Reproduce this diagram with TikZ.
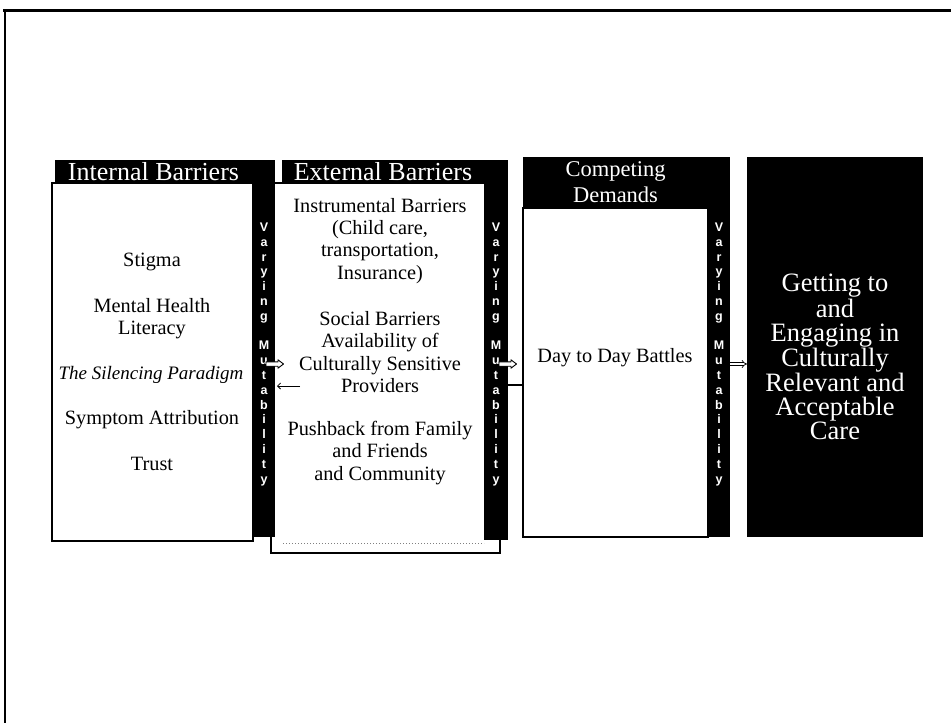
\documentclass[tikz,border=0pt]{standalone}
\usepackage{fontspec}
\setmainfont{Liberation Serif}
\newfontfamily\stripfont{Liberation Sans}
\usetikzlibrary{arrows.meta}
\tikzset{
  wbox/.style={draw=black, line width=1.1pt, fill=white, inner sep=0pt, outer sep=0pt, anchor=north west},
  blk/.style={fill=black, draw=none, inner sep=0pt, outer sep=0pt, anchor=north west},
  hdrfont/.style={text=white, align=center, font=\fontsize{26}{27}\selectfont},
  body/.style={font=\fontsize{20.3}{22.2}\selectfont, align=center, inner sep=0pt},
  sl/.style={text=white, font=\stripfont\bfseries\fontsize{12.5}{12.5}\selectfont, inner sep=0pt, anchor=base},
  blockarr/.style={draw=black, fill=white, line width=0.9pt, line join=round},
  hollow/.style={double, double distance=2pt, line width=0.7pt, -Implies},
  thinarr/.style={line width=0.8pt, -{Straight Barb[length=3pt,width=6pt]}},
  conn/.style={line width=1.1pt},
}
\begin{document}
\begin{tikzpicture}[x=1pt,y=-1pt]
\useasboundingbox (0,0) rectangle (951,723);
% frame (top and left)
\draw[line width=3pt] (3,10) -- (951,10);
\draw[line width=2pt] (5,10) -- (5,723);

% External white box (drawn first; strips overlay it)
\node[wbox, minimum width=229pt, minimum height=370pt] (extbox) at (271,183) {};
\draw[gray, dotted, line width=1pt] (283,543) -- (484,543);

% Internal barriers
\node[wbox, minimum width=201pt, minimum height=358pt] (inbox) at (52,183) {};
\node[blk, hdrfont, minimum width=197pt, minimum height=24pt] (inhdr) at (55,160) {Internal Barriers};
\node[blk, minimum width=23pt, minimum height=377pt] (istrip) at (252,160) {};

% External barriers header and strip
\node[blk, hdrfont, minimum width=202pt, minimum height=23pt] (exhdr) at (282,160) {External Barriers};
\node[blk, minimum width=24pt, minimum height=380pt] (estrip) at (484,160) {};

% Competing demands
\node[wbox, minimum width=185pt, minimum height=329pt] (cbox) at (523,208) {};
\node[blk, hdrfont, font=\fontsize{22.5}{26}\selectfont, minimum width=185pt, minimum height=51pt] (chdr) at (523,157) {Competing\\Demands};
\node[blk, minimum width=22pt, minimum height=380pt] (cstrip) at (708,157) {};

% Final box
\node[blk, minimum width=176pt, minimum height=380pt] (fbox) at (747,157) {};
\node[text=white, align=center, inner sep=0pt, font=\fontsize{26.5}{24}\selectfont] (ftext) at (835,357)
  {Getting to\\and\\Engaging in\\Culturally\\Relevant and\\Acceptable\\Care};

% Internal texts
\node[body] (t1) at (152,262) {Stigma};
\node[body] (t2) at (152,319) {Mental Health\\Literacy};
\node[body, font=\itshape\fontsize{19}{22.2}\selectfont] (t3) at (151,375) {The Silencing Paradigm};
\node[body] (t4) at (152,420) {Symptom Attribution};
\node[body] (t5) at (152,464) {Trust};

% External texts
\node[body] (e1) at (380,241) {Instrumental Barriers\\(Child care,\\transportation,\\Insurance)};
\node[body] (e2) at (380,352) {Social Barriers\\Availability of\\Culturally Sensitive\\Providers};
\node[body] (e3) at (380,453) {Pushback from Family\\and Friends\\and Community};

% Competing text
\node[body] (c1) at (615,358) {Day to Day Battles};

% Varying Mutability strips
\foreach \s/\xc in {is/264, es/496, cs/719}{
  \foreach \ch [count=\i from 0] in {V,a,r,y,i,n,g,{},M,u,t,a,b,i,l,i,t,y}{
    \node[sl] (\s-\i) at (\xc,231.5+14.8*\i) {\ch};
  }
}

% connectors
\coordinate (a1s) at (266,364);
\coordinate (a2s) at (300,386);
\coordinate (a3s) at (499,364);
\coordinate (a4y) at (0,385);
\coordinate (a5s) at (730,364);
\draw[blockarr] (a1s) ++(0,-2.2) -- ++(12,0) -- ++(0,-2) -- ++(5.5,4.2) -- ++(-5.5,4.2) -- ++(0,-2) -- ++(-12,0) -- cycle;
\draw[thinarr] (a2s) -- ([xshift=2pt]istrip.east |- a2s);
\draw[blockarr] (a3s) ++(0,-2.2) -- ++(12,0) -- ++(0,-2) -- ++(5.5,4.2) -- ++(-5.5,4.2) -- ++(0,-2) -- ++(-12,0) -- cycle;
\draw[conn] (estrip.east |- a4y) -- (cbox.west |- a4y);
\draw[hollow] (a5s) -- (fbox.west |- a5s);
\end{tikzpicture}
\end{document}
